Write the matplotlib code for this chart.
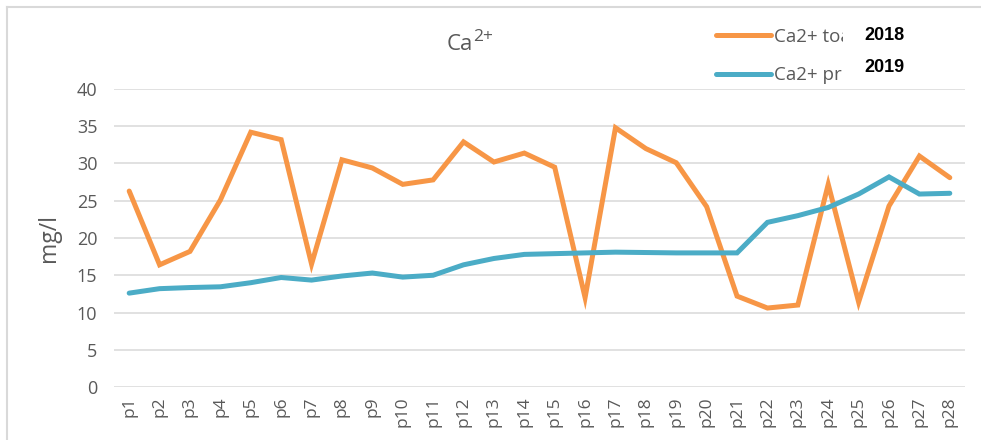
import numpy as np
import matplotlib.pyplot as plt
from matplotlib.patches import Rectangle
from matplotlib.lines import Line2D

plt.rcParams['font.family'] = ['Open Sans', 'DejaVu Sans']

# date
puncte = ['p%d' % i for i in range(1, 29)]
ca_2018 = [26.3, 16.4, 18.2, 25.1, 34.2, 33.2, 16.5, 30.5, 29.4, 27.2,
           27.8, 32.9, 30.2, 31.4, 29.5, 12.0, 34.8, 32.0, 30.1, 24.2,
           12.2, 10.6, 11.0, 27.2, 11.4, 24.3, 31.0, 28.1]
ca_2019 = [12.6, 13.2, 13.35, 13.45, 14.0, 14.7, 14.35, 14.9, 15.3, 14.75,
           15.0, 16.4, 17.25, 17.8, 17.9, 18.0, 18.1, 18.05, 18.0, 18.0,
           18.0, 22.1, 23.0, 24.1, 25.9, 28.2, 25.9, 26.0]
eticheta_2018 = 'Ca2+ toa'
eticheta_2019 = 'Ca2+ pri'

gri = '#595959'
x = np.arange(1, len(puncte) + 1)

fig = plt.figure(figsize=(9.81, 4.4), dpi=100)
ax = fig.add_axes([114/981, 1 - 387/440, (965 - 114)/981, (387 - 89)/440])

l1, = ax.plot(x, ca_2018, color='#F79646', lw=3.6, solid_joinstyle='miter', solid_capstyle='round', zorder=3)
l2, = ax.plot(x, ca_2019, color='#4BACC6', lw=3.6, solid_joinstyle='miter', solid_capstyle='round', zorder=3)

ax.set_xlim(0.5, 28.5)
ax.set_ylim(0, 40)
ax.set_yticks(range(0, 41, 5))
ax.set_xticks(x)
ax.set_xticklabels(puncte, rotation=90)
ax.grid(axis='y', color='#D9D9D9', lw=1.1)
ax.set_axisbelow(True)
for s in ax.spines.values():
    s.set_visible(False)
ax.tick_params(length=0, labelsize=13, labelcolor=gri)
ax.tick_params(axis='y', pad=12)
ax.tick_params(axis='x', pad=7, labelsize=12.5)
ax.set_ylabel('mg/l', fontsize=16.5, color=gri, labelpad=11)

# titlu: Ca cu 2+ superscript
fig.text(473/981, 1 - 50/440, 'Ca', fontsize=16, color=gri, ha='right', va='baseline')
fig.text(473.5/981, 1 - 41/440, '2+', fontsize=12.5, color=gri, ha='left', va='baseline')

leg = fig.legend([l1, l2], [eticheta_2018, eticheta_2019], loc='upper left',
                 bbox_to_anchor=(699/981, 1 - 11/440), frameon=False, fontsize=13.5,
                 labelcolor=gri, handlelength=2.95, handletextpad=0.15, labelspacing=1.1)

# petic alb peste legenda
fig.patches.append(Rectangle((843/981, 1 - 88/440), 1 - 843/981, 80/440,
                             transform=fig.transFigure, facecolor='white',
                             edgecolor='none', zorder=10))
fig.text(864/981, 1 - 35.5/440, '2018', fontsize=13, fontweight='bold',
         family='Liberation Sans', va='center', zorder=11)
fig.text(864/981, 1 - 68/440, '2019', fontsize=13, fontweight='bold',
         family='Liberation Sans', va='center', zorder=11)

# chenar
fig.lines.append(Line2D([7/981, 1], [1 - 7/440, 1 - 7/440], transform=fig.transFigure,
                        color='#D9D9D9', lw=1.5, zorder=12))
fig.lines.append(Line2D([7/981, 7/981], [0, 1 - 7/440], transform=fig.transFigure,
                        color='#D9D9D9', lw=1.5, zorder=12))

fig.savefig('out.png', dpi=100)
